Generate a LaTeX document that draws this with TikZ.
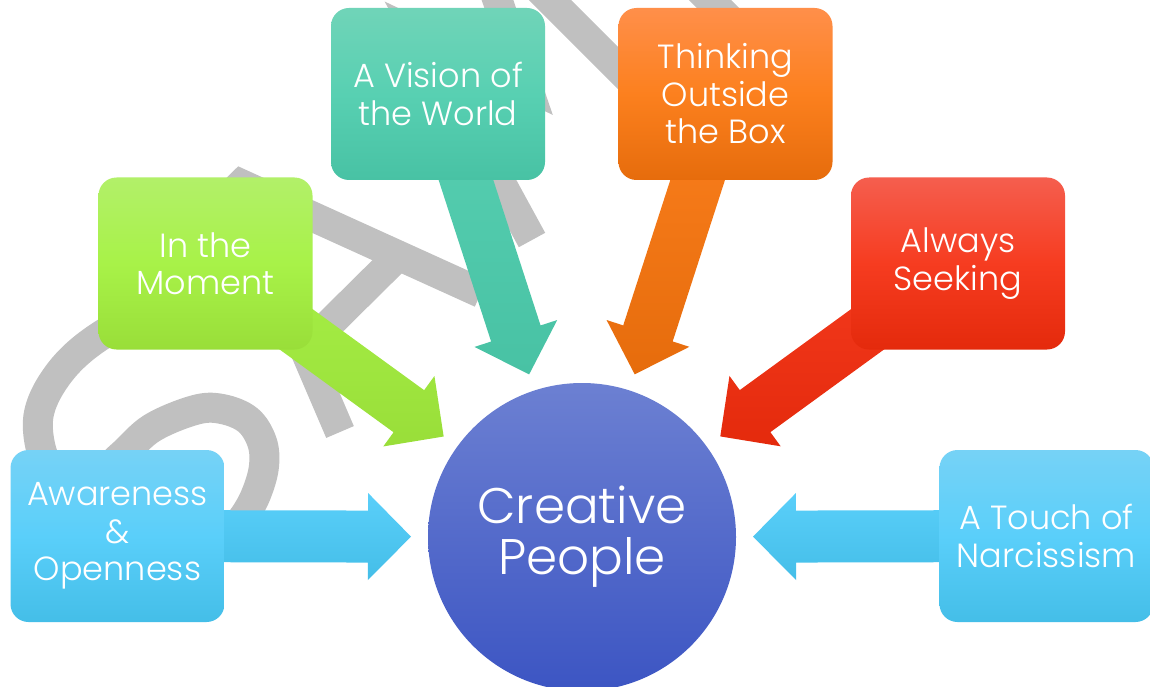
\documentclass[tikz,border=0pt]{standalone}
\usepackage{fontspec}
\setmainfont{Poppins Light}
\usetikzlibrary{calc}

\definecolor{wmgrey}{RGB}{192,192,192}
\definecolor{hubtop}{RGB}{108,128,210}
\definecolor{hubbot}{RGB}{60,85,195}
\definecolor{tealtop}{RGB}{112,212,184}
\definecolor{tealmid}{RGB}{88,208,178}
\definecolor{tealbot}{RGB}{72,194,164}
\definecolor{orangetop}{RGB}{255,143,74}
\definecolor{orangemid}{RGB}{252,128,30}
\definecolor{orangebot}{RGB}{230,108,12}
\definecolor{greentop}{RGB}{178,240,105}
\definecolor{greenmid}{RGB}{168,242,72}
\definecolor{greenbot}{RGB}{153,222,57}
\definecolor{redtop}{RGB}{245,94,78}
\definecolor{redmid}{RGB}{246,60,32}
\definecolor{redbot}{RGB}{228,42,12}
\definecolor{bluetop}{RGB}{118,210,246}
\definecolor{bluemid}{RGB}{90,207,250}
\definecolor{bluebot}{RGB}{68,190,232}

\pgfdeclarelayer{wmark}
\pgfdeclarelayer{arrows}
\pgfsetlayers{wmark,arrows,main}

% fat arrow from a box towards the hub: #1 box, #2 hub, #3 top colour, #4 bottom colour
\newcommand{\fatarrow}[4]{%
  \coordinate (tip-#1) at ($(#2.center)!171pt!(#1.center)$);
  \coordinate (neck-#1) at ($(tip-#1)!43pt!(#1.center)$);
  \shade[top color=#3, bottom color=#4]
    ($(#1.center)!26pt!90:(tip-#1)$) -- ($(neck-#1)!26pt!90:(tip-#1)$)
    -- ($(neck-#1)!43.5pt!90:(tip-#1)$) -- (tip-#1)
    -- ($(neck-#1)!43.5pt!-90:(tip-#1)$) -- ($(neck-#1)!26pt!-90:(tip-#1)$)
    -- ($(#1.center)!26pt!-90:(tip-#1)$) -- cycle;
}

\tikzset{
  box/.style={rectangle, rounded corners=18pt, minimum width=214pt, minimum height=172pt,
    inner sep=0pt, text=white, align=center, font=\fontsize{33.5pt}{37.5pt}\selectfont},
  hub/.style={circle, minimum size=308pt, inner sep=0pt, text=white, align=center,
    font=\fontsize{50pt}{51pt}\selectfont, top color=hubtop, bottom color=hubbot},
  wm/.style={draw=wmgrey, line width=30pt}
}

\begin{document}
\begin{tikzpicture}[x=1pt,y=-1pt]
        \useasboundingbox (0,0) rectangle (1150,687);
        %Hub
        \node[hub] (people) at (582,537) {Creative\\People};
        %Boxes
        \node[box, top color=tealtop, bottom color=tealbot, middle color=tealmid] (vision) at (438,94) {A Vision of\\the World};
        \node[box, top color=orangetop, bottom color=orangebot, middle color=orangemid] (thinking) at (725.5,94) {Thinking\\Outside\\the Box};
        \node[box, top color=greentop, bottom color=greenbot, middle color=greenmid] (moment) at (205.5,263.5) {In the\\Moment};
        \node[box, top color=redtop, bottom color=redbot, middle color=redmid] (seeking) at (958,263.5) {Always\\Seeking};
        \node[box, top color=bluetop, bottom color=bluebot, middle color=bluemid] (awareness) at (117.5,536) {Awareness\\\&\\Openness};
        \node[box, top color=bluetop, bottom color=bluebot, middle color=bluemid] (narcissism) at (1046.5,536) {A Touch of\\Narcissism};

        %Arrows
        \begin{pgfonlayer}{arrows}
        \fatarrow{vision}{people}{tealmid}{tealbot}
        \fatarrow{thinking}{people}{orangemid}{orangebot}
        \fatarrow{moment}{people}{greenmid}{greenbot}
        \fatarrow{seeking}{people}{redmid}{redbot}
        \fatarrow{awareness}{people}{bluemid}{bluebot}
        \fatarrow{narcissism}{people}{bluemid}{bluebot}
        \end{pgfonlayer}

        %Watermark
        \begin{pgfonlayer}{wmark}
        \fill[white] (0,0) rectangle (1150,687);
        \draw[wm] plot[smooth, tension=0.6] coordinates {(175,300) (105,333) (60,372) (38,420) (52,472) (95,476) (122,455) (152,428) (195,410) (222,409) (248,420) (262,442) (264,466) (257,492) (245,515) (225,540)};
        \draw[wm, line join=bevel] (340,432) -- (232,180) -- (481,293);
        \draw[wm] (307,346) -- (402,252);
        \draw[wm, line join=miter] (532,240) -- (420,35) -- (527,86) -- (470,-80);
        \draw[wm] (500,-50) -- (660,110);
        \draw[wm] (680,-30) -- (760,50);
        \end{pgfonlayer}
\end{tikzpicture}
\end{document}
